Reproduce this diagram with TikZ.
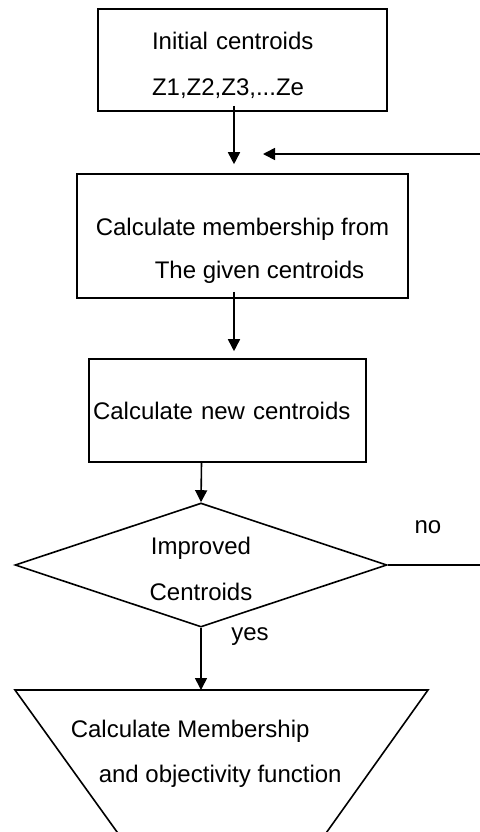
\documentclass[tikz,border=0pt]{standalone}
\usepackage{fontspec}
\setmainfont{Liberation Sans}
\usetikzlibrary{shapes.geometric,arrows.meta}

\begin{document}
\begin{tikzpicture}[x=0.5pt,y=-0.5pt,line width=0.8pt,
		box/.style={draw,inner sep=0pt,align=left,font=\fontsize{12}{23}\selectfont},
		arr/.style={-{Triangle[width=6pt,length=6pt]}},
		every node/.style={font=\fontsize{12}{23}\selectfont}]
			\useasboundingbox (0,0) rectangle (480,832);
			\node[box,minimum width=144.5pt,minimum height=51pt,text width=90.5pt] (init) at (242.5,60) {\rule{0pt}{13.7pt}Initial centroids\\Z1,Z2,Z3,...Ze};
			\node[box,minimum width=165.5pt,minimum height=62pt,font=\fontsize{12}{21.5}\selectfont] (memb) at (242.5,236) {\rule{0pt}{23.7pt}Calculate membership from\\\hspace*{29.5pt}The given centroids};
			\node[box,minimum width=138.5pt,minimum height=51.5pt,text width=134.5pt] (newc) at (227.5,410.5) {Calculate new centroids};
			\node[draw,diamond,aspect=3,inner sep=0pt,minimum width=186pt,minimum height=62pt,align=center] (test) at (201,565) {\rule{0pt}{12.2pt}Improved\\Centroids};
			\coordinate (back) at (480,154);
			\coordinate (backtip) at (263,154);
			\coordinate (noend) at (480,565);
			\coordinate (top) at (201,690);
			\draw (15,690) -- (428,690) -- (314,850) -- (130,850) -- cycle;
			\node[align=left,anchor=west,inner sep=0pt,font=\fontsize{12}{22.5}\selectfont] (objtxt) at (70,754) {Calculate Membership\\\hspace*{14pt}and objectivity function};
			\node (nolbl) at (428,527) {no};
			\node (yeslbl) at (250,637) {yes};
			\draw[arr] ([xshift=-4.25pt,yshift=3pt]init.south) -- ([xshift=-4.25pt,yshift=4.5pt]memb.north);
			\draw[arr] (back) -- (backtip);
			\draw[arr] ([xshift=-4.25pt,yshift=3.5pt]memb.south) -- ([xshift=3.25pt,yshift=3.5pt]newc.north);
			\draw[arr] ([xshift=-13pt]newc.south) -- (test.north);
			\draw (test.east) -- (noend);
			\draw[arr] (test.south) -- (top);
		\end{tikzpicture}
\end{document}
